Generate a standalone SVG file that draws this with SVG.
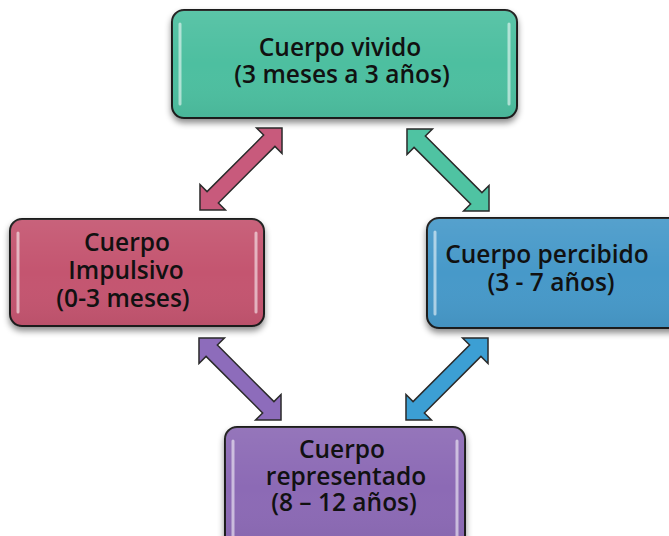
<svg xmlns="http://www.w3.org/2000/svg" width="669" height="536" viewBox="0 0 669 536">
<defs>
<style>
.box{stroke:#1e1e1e;stroke-width:2;filter:url(#sh)}
.gloss{fill:url(#gl)}
.hl{stroke:#ffffff;stroke-opacity:0.55;stroke-width:3;stroke-linecap:round}
.t{font-family:"Open Sans","Noto Sans",sans-serif;font-weight:600;font-size:24.5px;fill:#111;text-anchor:middle}
.arr{stroke:#2a2a2a;stroke-width:1.5;stroke-linejoin:miter}
</style>
<filter id="sh" x="-10%" y="-10%" width="120%" height="130%">
<feDropShadow dx="0" dy="4" stdDeviation="3" flood-color="#000" flood-opacity="0.45"/>
</filter>
<linearGradient id="gl" x1="0" y1="0" x2="0" y2="1">
<stop offset="0" stop-color="#fff" stop-opacity="0.08"/>
<stop offset="0.5" stop-color="#fff" stop-opacity="0"/>
<stop offset="1" stop-color="#000" stop-opacity="0.05"/>
</linearGradient>
<path id="dbl" d="M-58,0 L-40,-18 L-40,-8 L40,-8 L40,-18 L58,0 L40,18 L40,8 L-40,8 L-40,18 Z"/>
</defs>

<g id="connectors">
<use href="#dbl" class="arr" fill="#c85a7c" transform="translate(241,169) rotate(-45)"/>
<use href="#dbl" class="arr" fill="#4fc3a2" transform="translate(448,170) rotate(45)"/>
<use href="#dbl" class="arr" fill="#8d6cbb" transform="translate(240,379) rotate(45)"/>
<use href="#dbl" class="arr" fill="#3c9fd4" transform="translate(447,379) rotate(-45)"/>
</g>

<g id="node-vivido">
<rect class="box" x="172" y="10" width="345" height="108" rx="12" fill="#4dbfa0"/>
<rect class="gloss" x="172" y="10" width="345" height="108" rx="12"/>
<line class="hl" x1="180" y1="24" x2="180" y2="104"/>
<line class="hl" x1="509" y1="24" x2="509" y2="104"/>
<text class="t" x="340" y="56">Cuerpo vivido</text>
<text class="t" x="342" y="83">(3 meses a 3 años)</text>
</g>

<g id="node-impulsivo">
<rect class="box" x="10" y="219" width="254" height="107" rx="12" fill="#c4546f"/>
<rect class="gloss" x="10" y="219" width="254" height="107" rx="12"/>
<line class="hl" x1="18" y1="233" x2="18" y2="312"/>
<line class="hl" x1="256" y1="233" x2="256" y2="312"/>
<text class="t" x="127" y="251">Cuerpo</text>
<text class="t" x="126" y="279">Impulsivo</text>
<text class="t" x="123" y="307">(0-3 meses)</text>
</g>

<g id="node-percibido">
<rect class="box" x="427" y="218" width="262" height="110" rx="12" fill="#4699c9"/>
<rect class="gloss" x="427" y="218" width="262" height="110" rx="12"/>
<line class="hl" x1="435" y1="232" x2="435" y2="314"/>
<text class="t" x="547" y="263">Cuerpo percibido</text>
<text class="t" x="551" y="291">(3 - 7 años)</text>
</g>

<g id="node-representado">
<rect class="box" x="225" y="427" width="240" height="122" rx="12" fill="#8c6bb5"/>
<rect class="gloss" x="225" y="427" width="240" height="122" rx="12"/>
<line class="hl" x1="233" y1="441" x2="233" y2="540"/>
<line class="hl" x1="457" y1="441" x2="457" y2="540"/>
<text class="t" x="342" y="458">Cuerpo</text>
<text class="t" x="346" y="485">representado</text>
<text class="t" x="344" y="511">(8 – 12 años)</text>
</g>
</svg>
